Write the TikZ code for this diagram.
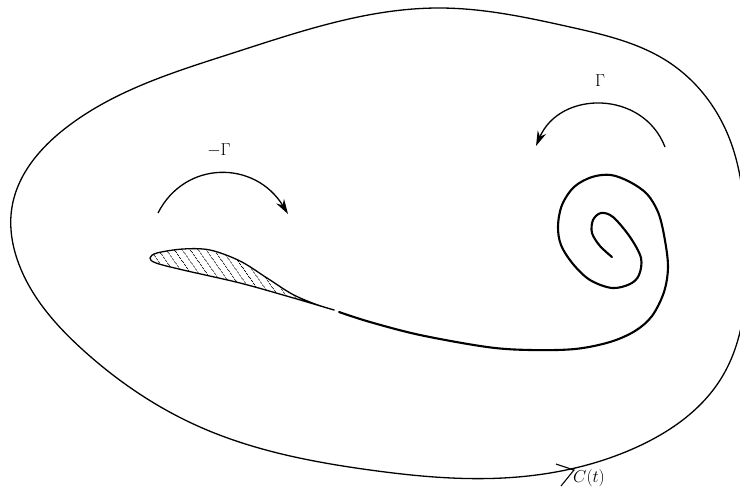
\documentclass[tikz,border=0pt]{standalone}
\usetikzlibrary{arrows.meta,patterns.meta,hobby}
\begin{document}
\begin{tikzpicture}[x=1pt,y=-1pt,
  outerline/.style={line width=1.3pt,line join=round},
  spiralline/.style={line width=2.1pt,line cap=round,line join=round},
  hatchbody/.style={line width=1.3pt,pattern={Lines[angle=-55,distance=6.5pt,line width=0.75pt]}},
  turnarrow/.style={line width=1.3pt,-{Stealth[length=15pt,width=9pt]}},
  lbl/.style={inner sep=0pt,font=\fontsize{17}{20}\selectfont}]
\useasboundingbox (0,0) rectangle (740,499);
% outer contour C(t)
\draw[outerline,use Hobby shortcut,closed=true]
 (440,8) .. (570,27) .. (670,63) .. (730,140) .. (746,240) .. (722,377)
 .. (637,447) .. (503,478) .. (370,470) .. (200,427) .. (83,350)
 .. (20,267) .. (12,207) .. (67,127) .. (233,53);
% orientation tick on C(t)
\draw[line width=1.1pt] (556,464) -- (574,470) -- (561,486);
\node[lbl] (ct) at (589,478) {$C(t)$};
% spiral with tail
\draw[spiralline] plot[smooth,tension=0.55] coordinates {
 (612,257) (600,246) (592,233) (593,220) (601,213) (613,217) (630,237)
 (641,258) (639,275) (630,284) (612,288) (590,280) (573,264) (561,245)
 (558,226) (562,205) (574,187) (592,177) (611,175) (630,182) (647,194)
 (658,212) (664,235) (668,266) (664,292) (652,316) (635,331) (610,342)
 (575,349) (530,350) (487,347) (420,335) (370,322) (339,312)};
% hatched sheet
\draw[hatchbody] plot[smooth cycle,tension=0.55] coordinates {
 (334,310) (290,297) (240,283) (183,270) (156,263) (150,258) (157,253)
 (183,249) (210,250) (240,261) (267,278) (292,294) (315,304)};
% rotation arrows
\draw[turnarrow] (158,213) .. controls (185,160) and (255,160) .. (288,214);
\node[lbl] (mg) at (219,150) {${-}\Gamma$};
\draw[turnarrow] (665,147) .. controls (643,90) and (560,90) .. (536,146);
\node[lbl] (g) at (600,81) {$\Gamma$};
\end{tikzpicture}
\end{document}
